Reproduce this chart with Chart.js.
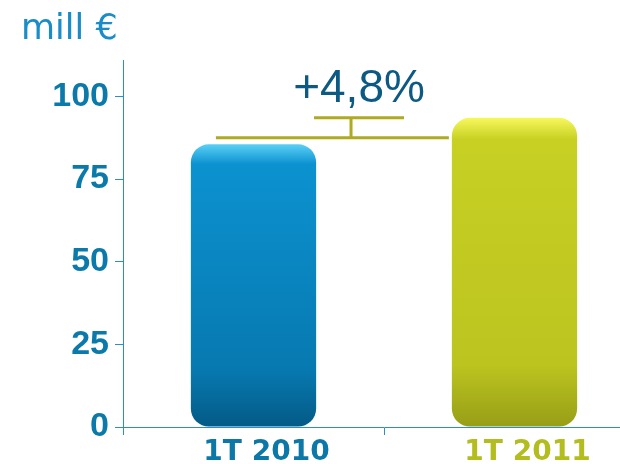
<!DOCTYPE html>
<html>
<head>
<meta charset="utf-8">
<script src="https://cdn.jsdelivr.net/npm/chart.js@4"></script>
<style>
  html, body { margin: 0; padding: 0; background: #fff; overflow: hidden; }
  #wrap { width: 645px; height: 464px; }
</style>
</head>
<body>
<div id="wrap"><canvas id="salesChart" width="645" height="464"></canvas></div>
<script>
// data
const categories = ['1T 2010', '1T 2011'];
const revenue = [85.5, 93.5];
const yTicks = [0, 25, 50, 75, 100];
const bracketLevels = [87.5, 93.5];
const growthLabel = '+4,8%';
const unitLabel = 'mill €';

// colours
const axisColor = '#2a8fc8';
const tickColor = '#0b7aaa';
const labelColors = ['#0b78a8', '#b3bd1e'];
const bracketColor = '#b0aa22';
const barStops = [
  ['#5ad0f6', '#0c92d0', '#0779b0', '#045a86'],
  ['#f7f85c', '#c7d023', '#bcc420', '#979e16']
];

function barFill(ctx) {
  const { chart, dataIndex, raw } = ctx;
  const s = barStops[dataIndex];
  const y = chart.scales.y;
  if (!y || raw == null) return s[1];
  const top = y.getPixelForValue(raw);
  const bottom = y.getPixelForValue(0);
  if (!isFinite(top) || !isFinite(bottom) || top === bottom) return s[1];
  const g = chart.ctx.createLinearGradient(0, top, 0, bottom);
  g.addColorStop(0, s[0]);
  g.addColorStop(0.07, s[1]);
  g.addColorStop(0.8, s[2]);
  g.addColorStop(1, s[3]);
  return g;
}

// bracket, growth text and unit label
const annotations = {
  id: 'annotations',
  afterDatasetsDraw(chart) {
    const { ctx, scales: { y } } = chart;
    const bars = chart.getDatasetMeta(0).data;
    const w = bars[0].width;
    const x0 = bars[0].x - w * 0.3;
    const x1 = bars[1].x - w / 2 - 3;
    const xs = x0 + (x1 - x0) * 0.58;
    const yBase = y.getPixelForValue(bracketLevels[0]);
    const yTop = y.getPixelForValue(bracketLevels[1]);

    ctx.save();
    ctx.strokeStyle = bracketColor;
    ctx.lineWidth = 3;
    ctx.beginPath();
    ctx.moveTo(x0, yBase); ctx.lineTo(x1, yBase);
    ctx.moveTo(xs, yBase); ctx.lineTo(xs, yTop);
    ctx.moveTo(xs - 37, yTop); ctx.lineTo(xs + 53, yTop);
    ctx.stroke();

    ctx.fillStyle = '#0c5a84';
    ctx.font = '46px "Liberation Sans", Arial, sans-serif';
    ctx.textAlign = 'center';
    ctx.textBaseline = 'alphabetic';
    ctx.fillText(growthLabel, xs + 8, yTop - 16);

    ctx.fillStyle = '#1a8cc8';
    ctx.font = '35px "DejaVu Sans", sans-serif';
    ctx.textAlign = 'left';
    ctx.fillText(unitLabel, 21, 39);
    ctx.restore();
  }
};

const config = {
  type: 'bar',
  data: {
    labels: categories,
    datasets: [{
      data: revenue,
      backgroundColor: barFill,
      borderRadius: 18,
      borderSkipped: false,
      barPercentage: 0.48,
      categoryPercentage: 1
    }]
  },
  options: {
    responsive: false,
    animation: false,
    layout: { padding: { top: 60, right: 0, left: 0, bottom: 0 } },
    plugins: {
      legend: { display: false },
      tooltip: { enabled: false }
    },
    scales: {
      x: {
        grid: { drawOnChartArea: false, tickLength: 8, color: axisColor, offset: true },
        border: { color: axisColor, width: 1 },
        ticks: {
          color: labelColors,
          font: { family: 'DejaVu Sans', size: 28, weight: 'bold' },
          padding: 1,
          labelOffset: 13
        },
        afterFit: s => { s.height = 37; }
      },
      y: {
        min: 0,
        max: 111,
        afterBuildTicks: s => { s.ticks = yTicks.map(v => ({ value: v })); },
        grid: { drawOnChartArea: false, tickLength: 8, color: axisColor },
        border: { color: axisColor, width: 1 },
        ticks: {
          color: tickColor,
          font: { family: 'Liberation Sans', size: 34, weight: 'bold' },
          padding: 6
        },
        afterFit: s => { s.width = 123; }
      }
    }
  },
  plugins: [annotations]
};

window.addEventListener('DOMContentLoaded', () => {
  const ctx = document.getElementById('salesChart').getContext('2d');
  new Chart(ctx, config);
});
</script>
</body>
</html>
